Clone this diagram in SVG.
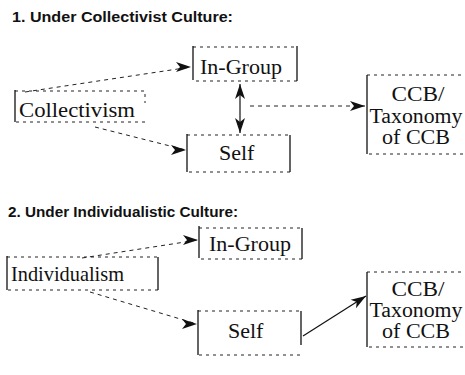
<svg xmlns="http://www.w3.org/2000/svg" width="465" height="375" viewBox="0 0 465 375">
<defs>
<style>
.title{font-family:"Liberation Sans",Arial,sans-serif;font-size:14px;font-weight:bold;fill:#111}
.lbl{font-family:"Liberation Serif","Times New Roman",serif;font-size:22px;fill:#111}
.ccb{font-family:"Liberation Serif","Times New Roman",serif;font-size:20px;fill:#111}
.box{fill:none;stroke:#222;stroke-width:1;stroke-dasharray:3 4}
.side{stroke:#111;stroke-width:1.3}
.dash{fill:none;stroke:#222;stroke-width:1;stroke-dasharray:4 4}
.solid{fill:none;stroke:#111;stroke-width:1.2}
</style>
<marker id="hR" markerWidth="16" markerHeight="12" refX="15" refY="6" orient="0" markerUnits="userSpaceOnUse">
<path d="M0,1 L15,6 L0,11 L4,6 Z" fill="#111"/>
</marker>
<marker id="hA" markerWidth="16" markerHeight="12" refX="15" refY="6" orient="auto" markerUnits="userSpaceOnUse">
<path d="M0,1 L15,6 L0,11 L4,6 Z" fill="#111"/>
</marker>
<marker id="hS" markerWidth="16" markerHeight="12" refX="15" refY="6" orient="auto-start-reverse" markerUnits="userSpaceOnUse">
<path d="M0,1 L15,6 L0,11 L4,6 Z" fill="#111"/>
</marker>
</defs>
<rect width="465" height="375" fill="#fff"/>
<text class="title" x="12" y="22" textLength="221" lengthAdjust="spacingAndGlyphs">1. Under Collectivist Culture:</text>
<text class="title" x="8" y="217" textLength="230" lengthAdjust="spacingAndGlyphs">2. Under Individualistic Culture:</text>

<g id="collectivism">
<path class="box" d="M15,91 H145 V103 M145,122 H15"/>
<line class="side" x1="15" y1="90" x2="15" y2="122"/>
<text class="lbl" x="19" y="117" textLength="116" lengthAdjust="spacingAndGlyphs">Collectivism</text>
</g>
<g id="ingroup1">
<path class="box" d="M193,47 H297 M297,81 H193"/>
<line class="side" x1="193" y1="46" x2="193" y2="80"/>
<line class="side" x1="297" y1="46" x2="297" y2="81"/>
<text class="lbl" x="200" y="74" textLength="82" lengthAdjust="spacingAndGlyphs">In-Group</text>
</g>
<g id="self1">
<path class="box" d="M187,135 H290 M290,172 H187"/>
<line class="side" x1="187" y1="134" x2="187" y2="172"/>
<line class="side" x1="290" y1="135" x2="290" y2="172"/>
<text class="lbl" x="219" y="160">Self</text>
</g>
<g id="ccb1">
<path class="box" d="M367,75 H463 M463,154 H367"/>
<line class="side" x1="367" y1="75" x2="367" y2="154"/>
<text class="ccb" x="418" y="101" text-anchor="middle" textLength="53" lengthAdjust="spacingAndGlyphs">CCB/</text>
<text class="ccb" x="416" y="123" text-anchor="middle" textLength="93" lengthAdjust="spacingAndGlyphs">Taxonomy</text>
<text class="ccb" x="416" y="144" text-anchor="middle" textLength="68" lengthAdjust="spacingAndGlyphs">of CCB</text>
</g>

<g id="individualism">
<path class="box" d="M7,257 H158 M158,290 H7"/>
<line class="side" x1="7" y1="256" x2="7" y2="290"/>
<line class="side" x1="158" y1="257" x2="158" y2="290"/>
<text class="lbl" x="11" y="281" textLength="113" lengthAdjust="spacingAndGlyphs">Individualism</text>
</g>
<g id="ingroup2">
<path class="box" d="M199,228 H302 M302,259 H199"/>
<line class="side" x1="199" y1="226" x2="199" y2="258"/>
<line class="side" x1="302" y1="228" x2="302" y2="259"/>
<text class="lbl" x="209" y="251" textLength="82" lengthAdjust="spacingAndGlyphs">In-Group</text>
</g>
<g id="self2">
<path class="box" d="M198,311 H300 M300,355 H198"/>
<line class="side" x1="198" y1="310" x2="198" y2="355"/>
<line class="side" x1="301" y1="311" x2="301" y2="345"/>
<text class="lbl" x="228" y="338">Self</text>
</g>
<g id="ccb2">
<path class="box" d="M367,272 H463 M463,347 H367"/>
<line class="side" x1="367" y1="272" x2="367" y2="347"/>
<text class="ccb" x="418" y="296" text-anchor="middle" textLength="53" lengthAdjust="spacingAndGlyphs">CCB/</text>
<text class="ccb" x="416" y="317" text-anchor="middle" textLength="93" lengthAdjust="spacingAndGlyphs">Taxonomy</text>
<text class="ccb" x="416" y="338" text-anchor="middle" textLength="68" lengthAdjust="spacingAndGlyphs">of CCB</text>
</g>

<g id="connectors">
<line class="dash" x1="25" y1="92" x2="191" y2="67" marker-end="url(#hR)"/>
<line class="dash" x1="95" y1="127" x2="186" y2="150" marker-end="url(#hR)"/>
<line class="solid" x1="240" y1="84" x2="240" y2="133" marker-start="url(#hS)" marker-end="url(#hS)"/>
<line class="dash" x1="250" y1="106" x2="365" y2="106" marker-end="url(#hR)"/>
<line class="dash" x1="82" y1="258" x2="198" y2="240" marker-end="url(#hR)"/>
<line class="dash" x1="90" y1="292" x2="197" y2="324" marker-end="url(#hR)"/>
<line class="solid" x1="303" y1="336" x2="366" y2="296" marker-end="url(#hA)"/>
</g>
</svg>
